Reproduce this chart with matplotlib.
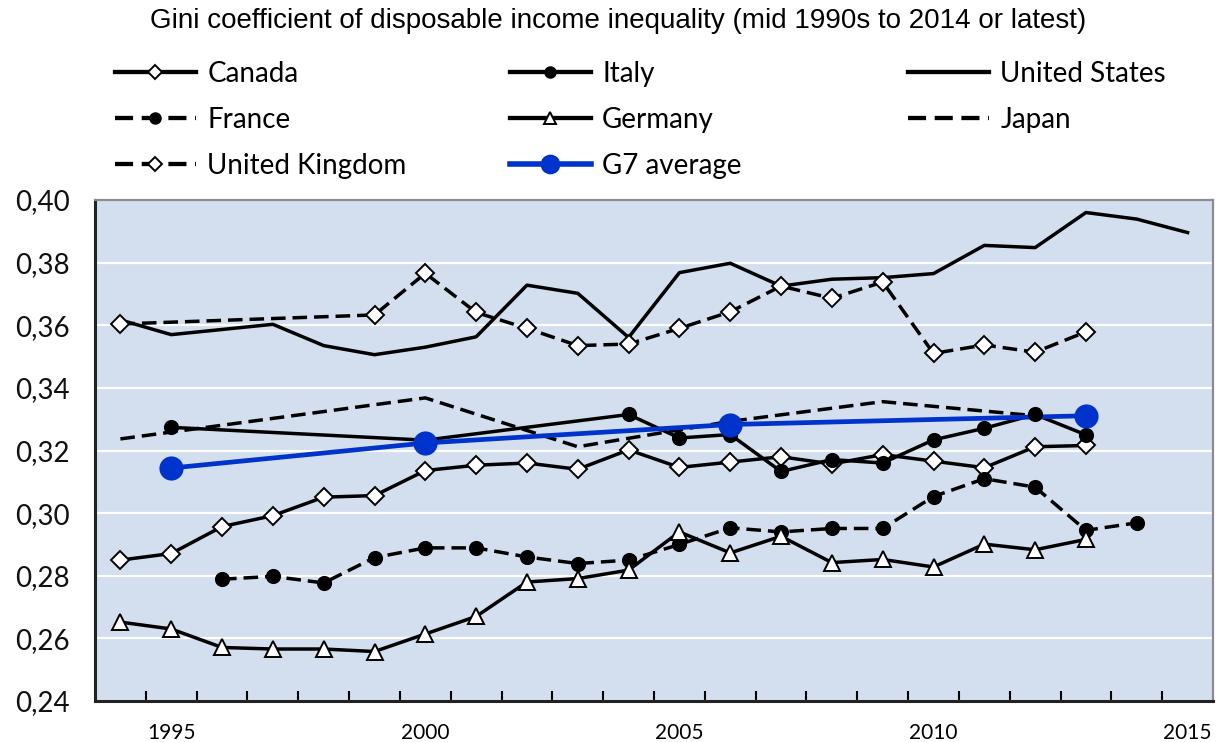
import matplotlib
matplotlib.use('Agg')
import matplotlib.pyplot as plt
from matplotlib.lines import Line2D
from matplotlib.ticker import FixedLocator, FuncFormatter
import numpy as np

# ========== data ==========
canada_years = list(range(1994, 2014))
canada = [0.2850, 0.2871, 0.2957, 0.2992, 0.3051, 0.3056, 0.3136, 0.3153, 0.3160, 0.3140,
          0.3202, 0.3146, 0.3163, 0.3180, 0.3157, 0.3187, 0.3166, 0.3145, 0.3212, 0.3216]

italy_years = [1995, 2000, 2004, 2005, 2006, 2007, 2008, 2009, 2010, 2011, 2012, 2013]
italy = [0.3274, 0.3233, 0.3315, 0.3240, 0.3251, 0.3133, 0.3171, 0.3160, 0.3234, 0.3271, 0.3315, 0.3250]

us_years = [1994, 1995] + list(range(1997, 2016))
us = [0.3617, 0.3570, 0.3603, 0.3535, 0.3506, 0.3530, 0.3563, 0.3728, 0.3702, 0.3561,
      0.3768, 0.3798, 0.3725, 0.3747, 0.3752, 0.3765, 0.3855, 0.3848, 0.3960, 0.3939, 0.3896]

france_years = list(range(1996, 2015))
france = [0.2789, 0.2798, 0.2777, 0.2858, 0.2889, 0.2889, 0.2860, 0.2839, 0.2850, 0.2900,
          0.2953, 0.2940, 0.2951, 0.2951, 0.3053, 0.3110, 0.3083, 0.2945, 0.2969]

germany_years = list(range(1994, 2014))
germany = [0.2652, 0.2630, 0.2571, 0.2566, 0.2566, 0.2558, 0.2614, 0.2670, 0.2780, 0.2791,
           0.2818, 0.2940, 0.2873, 0.2926, 0.2842, 0.2852, 0.2828, 0.2901, 0.2883, 0.2916]

japan_years = [1994, 2000, 2003, 2006, 2009, 2012]
japan = [0.3237, 0.3368, 0.3212, 0.3293, 0.3356, 0.3311]

uk_years = [1994] + list(range(1999, 2014))
uk = [0.3604, 0.3633, 0.3766, 0.3641, 0.3590, 0.3535, 0.3540, 0.3590, 0.3643, 0.3725,
      0.3686, 0.3738, 0.3510, 0.3537, 0.3514, 0.3579]

g7_years = [1995, 2000, 2006, 2013]
g7 = [0.3144, 0.3224, 0.3283, 0.3311]

TITLE = 'Gini coefficient of disposable income inequality (mid 1990s to 2014 or latest)'
YEARS = list(range(1994, 2016))
LABEL_YEARS = [1995, 2000, 2005, 2010, 2015]
Y_TICKS = [0.24, 0.26, 0.28, 0.30, 0.32, 0.34, 0.36, 0.38, 0.40]

BG = '#d3dfee'
BLUE = '#0033cc'
DASH = (0, (4.2, 2.0))

plt.rcParams['font.family'] = ['Lato', 'DejaVu Sans']

fig = plt.figure(figsize=(12.18, 7.42), dpi=100)
ax = fig.add_axes([95 / 1218, 1 - 701 / 742, 1118 / 1218, 501 / 742])
ax.set_facecolor(BG)

# name, years, values, linestyle, marker, face, msize, color, lw
series = [
    ('Canada', canada_years, canada, '-', 'D', 'white', 9, 'black', 2.5),
    ('Italy', italy_years, italy, '-', 'o', 'black', 9.5, 'black', 2.5),
    ('United States', us_years, us, '-', None, 'black', 0, 'black', 2.5),
    ('France', france_years, france, DASH, 'o', 'black', 9.5, 'black', 2.5),
    ('Germany', germany_years, germany, '-', '^', 'white', 11, 'black', 2.5),
    ('Japan', japan_years, japan, DASH, None, 'black', 0, 'black', 2.5),
    ('United Kingdom', uk_years, uk, DASH, 'D', 'white', 9, 'black', 2.5),
    ('G7 average', g7_years, g7, '-', 'o', BLUE, 16, BLUE, 3.4),
]

handles = {}
# lines first, markers on top (Excel draws it that way)
for name, yrs, vals, ls, mk, face, ms, col, lw in series:
    ax.plot(yrs, vals, linestyle=ls, color=col, linewidth=lw, zorder=2)
    if mk:
        ax.plot(yrs, vals, linestyle='none', marker=mk, markersize=ms,
                markerfacecolor=face, markeredgecolor=col, markeredgewidth=1.4, zorder=3)
    handles[name] = Line2D([], [], linestyle=ls, color=col, linewidth=lw + 0.6,
                           marker=mk, markersize=ms * 0.8 if mk else 0,
                           markerfacecolor=face, markeredgecolor=col, markeredgewidth=1.4)

ax.set_xlim(YEARS[0] - 0.5, YEARS[-1] + 0.5)
ax.set_ylim(Y_TICKS[0], Y_TICKS[-1])
ax.set_yticks(Y_TICKS)
ax.yaxis.set_major_formatter(FuncFormatter(lambda v, p: f'{v:.2f}'.replace('.', ',')))
ax.grid(axis='y', color='white', linewidth=1.6, zorder=1)
ax.set_axisbelow(True)
ax.tick_params(axis='y', length=0, pad=18, labelsize=20, labelcolor='#111111')

ax.set_xticks(LABEL_YEARS)
ax.set_xticklabels([str(y) for y in LABEL_YEARS])
ax.xaxis.set_minor_locator(FixedLocator([y + 0.5 for y in YEARS[:-1]]))
ax.tick_params(axis='x', which='major', length=0, pad=16, labelsize=15)
ax.tick_params(axis='x', which='minor', direction='in', length=7, width=1.5, color='black')

for side in ('left', 'bottom'):
    ax.spines[side].set_color('#222222')
    ax.spines[side].set_linewidth(2.2)
for side in ('top', 'right'):
    ax.spines[side].set_color('#8c8c8c')
    ax.spines[side].set_linewidth(1.6)

fig.text(618 / 1218, 1 - 21 / 742, TITLE, ha='center', va='center', fontsize=20,
         family=['Liberation Sans Narrow', 'Liberation Sans', 'DejaVu Sans'])

# legend: three separate columns
cols = [['Canada', 'France', 'United Kingdom'],
        ['Italy', 'Germany', 'G7 average'],
        ['United States', 'Japan']]
col_x = [115, 510, 908]
for names, x in zip(cols, col_x):
    leg = fig.legend([handles[n] for n in names], names, loc='upper left',
                     bbox_to_anchor=(x / 1218, 1 - 61 / 742), frameon=False,
                     fontsize=20, handlelength=2.9, handletextpad=0.42,
                     labelspacing=0.72, borderaxespad=0, borderpad=0)

fig.savefig('out.png', dpi=100)
